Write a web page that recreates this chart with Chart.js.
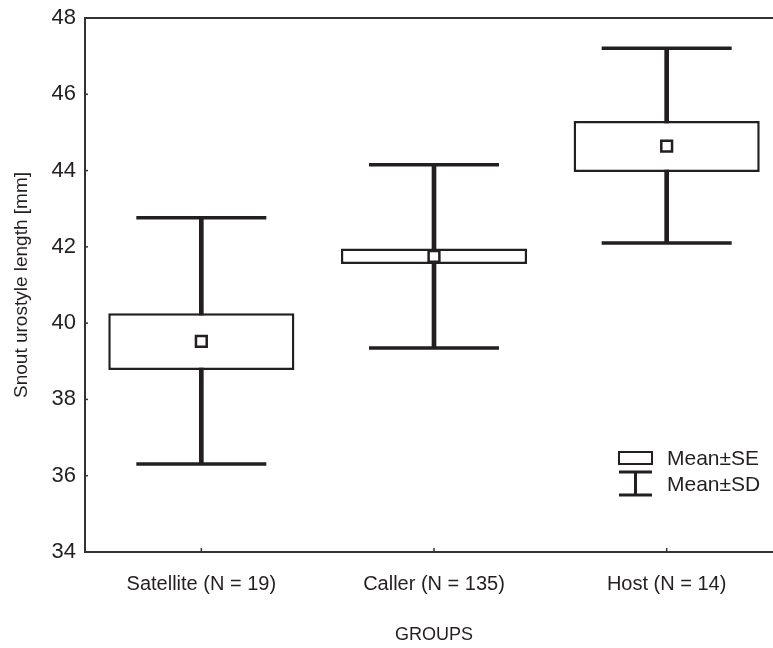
<!DOCTYPE html>
<html>
<head>
<meta charset="utf-8">
<script src="https://cdn.jsdelivr.net/npm/chart.js@4/dist/chart.umd.min.js"></script>
<style>
  html, body { margin: 0; padding: 0; background: #fff; overflow: hidden; width: 773px; height: 648px; }
  canvas { display: block; }
</style>
</head>
<body>
<canvas id="myChart" width="783" height="648" style="width:783px;height:648px"></canvas>
<script>
const groups = ['Satellite (N = 19)', 'Caller (N = 135)', 'Host (N = 14)'];
const means = [39.52, 41.75, 44.64];
const seLow = [38.77, 41.55, 43.96];
const seHigh = [40.26, 41.96, 45.30];
const sdLow = [36.31, 39.35, 42.10];
const sdHigh = [42.76, 44.15, 47.21];
const yTicks = [34, 36, 38, 40, 42, 44, 46, 48];

const ink = '#231f20';
const font = 'Liberation Sans, Arial, sans-serif';

// frame top line, small inner ticks and the legend
const extras = {
    id: 'extras',
    afterDraw(chart) {
        const c = chart.ctx;
        const a = chart.chartArea;
        const y = chart.scales.y;
        const x = chart.scales.x;
        c.save();
        c.strokeStyle = '#333';
        c.lineWidth = 2;
        c.beginPath();
        c.moveTo(a.left, a.top);
        c.lineTo(a.right, a.top);
        c.stroke();

        c.lineWidth = 1.5;
        yTicks.forEach(v => {
            const py = y.getPixelForValue(v);
            c.beginPath();
            c.moveTo(a.left, py);
            c.lineTo(a.left + 3, py);
            c.stroke();
        });
        groups.forEach((g, i) => {
            const px = x.getPixelForValue(i);
            c.beginPath();
            c.moveTo(px, a.bottom);
            c.lineTo(px, a.bottom - 4);
            c.stroke();
        });

        // legend
        const lx = a.right - 164;
        const ly = a.bottom - 100;
        c.strokeStyle = ink;
        c.lineWidth = 2;
        c.strokeRect(lx, ly, 33, 12);
        c.lineWidth = 3;
        c.beginPath();
        c.moveTo(lx, ly + 20); c.lineTo(lx + 33, ly + 20);
        c.moveTo(lx + 16.5, ly + 20); c.lineTo(lx + 16.5, ly + 43);
        c.moveTo(lx, ly + 43); c.lineTo(lx + 33, ly + 43);
        c.stroke();
        c.fillStyle = ink;
        c.font = '21px ' + font;
        c.textBaseline = 'middle';
        c.textAlign = 'left';
        c.fillText('Mean\u00b1SE', lx + 48, ly + 7);
        c.fillText('Mean\u00b1SD', lx + 48, ly + 33);
        c.restore();
    }
};

const ctx = document.getElementById('myChart').getContext('2d');
const myChart = new Chart(ctx, {
    data: {
        labels: groups,
        datasets: [
            {
                type: 'line',
                label: 'Mean',
                data: means,
                showLine: false,
                pointStyle: 'rect',
                pointRadius: 7.6,
                pointBackgroundColor: '#fff',
                pointBorderColor: ink,
                pointBorderWidth: 2.5,
                order: 0
            },
            {
                type: 'bar',
                label: 'Mean±SE',
                data: groups.map((g, i) => [seLow[i], seHigh[i]]),
                backgroundColor: '#fff',
                borderColor: ink,
                borderWidth: 2.5,
                borderSkipped: false,
                barPercentage: 0.8,
                categoryPercentage: 1,
                grouped: false,
                order: 1
            },
            {
                type: 'line',
                label: 'SD high',
                data: sdHigh,
                showLine: false,
                pointStyle: 'line',
                pointRadius: 65,
                pointBorderColor: ink,
                pointBorderWidth: 3.5,
                order: 2
            },
            {
                type: 'line',
                label: 'SD low',
                data: sdLow,
                showLine: false,
                pointStyle: 'line',
                pointRadius: 65,
                pointBorderColor: ink,
                pointBorderWidth: 3.5,
                order: 2
            },
            {
                type: 'bar',
                label: 'Mean±SD',
                data: groups.map((g, i) => [sdLow[i], sdHigh[i]]),
                backgroundColor: ink,
                borderWidth: 0,
                barThickness: 4,
                grouped: false,
                order: 3
            }
        ]
    },
    options: {
        responsive: false,
        animation: false,
        layout: { autoPadding: false, padding: { top: 18, right: 0, left: 0, bottom: 0 } },
        plugins: {
            legend: { display: false },
            tooltip: { enabled: false }
        },
        scales: {
            x: {
                type: 'category',
                offset: true,
                grid: { display: false, drawTicks: false },
                border: { display: true, color: '#333', width: 2 },
                ticks: { color: ink, font: { family: font, size: 20 }, padding: 20 },
                title: {
                    display: true,
                    text: 'GROUPS',
                    color: ink,
                    font: { family: font, size: 18 },
                    padding: { top: 0, bottom: 2 }
                },
                afterFit: (scale) => { scale.height = 96; }
            },
            y: {
                min: 34,
                max: 48,
                afterBuildTicks: (scale) => { scale.ticks = yTicks.map(v => ({ value: v })); },
                grid: { display: false, drawTicks: false },
                border: { display: true, color: '#333', width: 2 },
                ticks: { color: ink, font: { family: font, size: 22 }, padding: 9 },
                title: {
                    display: true,
                    text: 'Snout urostyle length [mm]',
                    color: ink,
                    font: { family: font, size: 19 },
                    padding: { top: 10, bottom: 0 }
                },
                afterFit: (scale) => {
                    scale.width = 85;
                    scale.paddingTop = 0;
                    scale.paddingBottom = 0;
                }
            }
        }
    },
    plugins: [extras]
});
</script>
</body>
</html>
